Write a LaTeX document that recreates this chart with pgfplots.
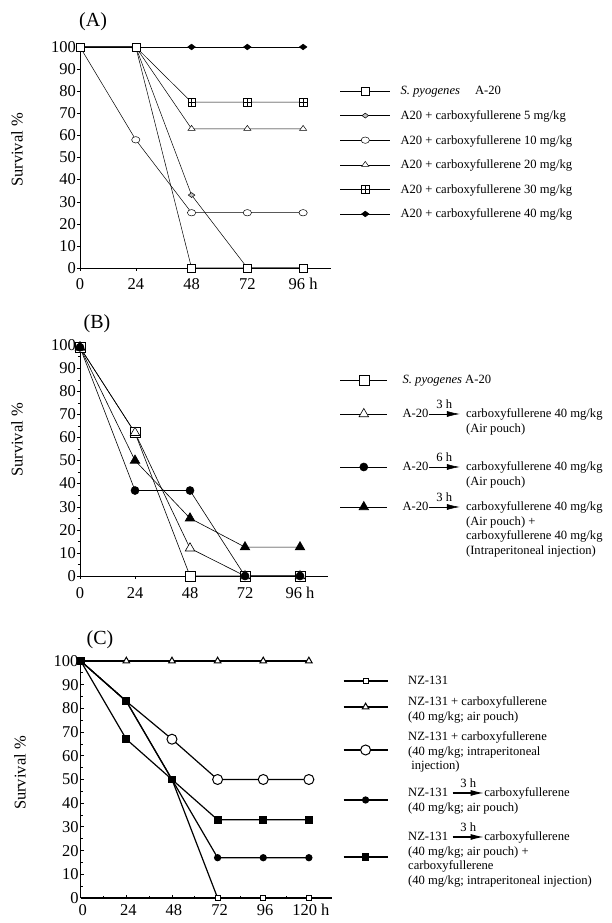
\documentclass[border=0pt]{standalone}
\usepackage{pgfplots}
\pgfplotsset{compat=1.18}
\usetikzlibrary{arrows.meta}
\usepackage{fontspec}
\setmainfont{Liberation Serif}

\newcommand\lf{\fontsize{12.6}{14.5}\selectfont}
\newcommand\tl{\fontsize{16.5}{19}\selectfont}
\newcommand\ttl{\fontsize{20}{24}\selectfont}
% arrow with a time label: line width, length, label
\newcommand\arr[3]{\tikz[baseline=0pt]{\draw[line width=#1,-{Latex[length=13pt,width=6pt]}] (0pt,4pt)--(#2,4pt) node[midway,above=4pt,inner sep=0pt]{#3};}}

\pgfdeclareplotmark{boxplus}{%
  \pgfpathrectangle{\pgfqpoint{-\pgfplotmarksize}{-\pgfplotmarksize}}{\pgfqpoint{2\pgfplotmarksize}{2\pgfplotmarksize}}%
  \pgfusepathqfillstroke
  \pgfpathmoveto{\pgfqpoint{-\pgfplotmarksize}{0pt}}\pgfpathlineto{\pgfqpoint{\pgfplotmarksize}{0pt}}%
  \pgfpathmoveto{\pgfqpoint{0pt}{-\pgfplotmarksize}}\pgfpathlineto{\pgfqpoint{0pt}{\pgfplotmarksize}}%
  \pgfusepathqstroke}

\pgfplotsset{
  base/.style={scale only axis, axis lines=left, clip=false,
    xmin=0, ymin=0, ymax=100, ytick={0,10,...,100},
    tick style={black}, major tick length=3pt, minor tick length=2pt,
    /pgf/number format/assume math mode=true,
    ticklabel style={font=\tl, inner sep=1pt},
    ylabel={Survival \%}, ylabel style={font=\tl, anchor=center},
    title style={anchor=center, font=\ttl, yshift=0pt},
    legend style={draw=none, fill=none, inner sep=0pt, outer sep=0pt, anchor=north west,
      row sep=0pt, cells={anchor=base west}, nodes={inner sep=0pt, font=\lf}}},
  limg/.style n args={3}{legend image code/.code={\draw[##1, mark indices={2}] plot coordinates {(0pt,#3)(#2,#3)(#1,#3)};}},
  % panel A
  lA/.style={black, line width=0.5pt},
  sqA/.style={lA, mark=square*, mark size=4, mark options={fill=white}},
  dgA/.style={lA, mark=diamond*, mark size=3.3, mark options={fill=gray!50, rotate=90}},
  ciA/.style={lA, mark=*, mark size=3.2, mark options={fill=white, xscale=1.3}},
  trA/.style={lA, mark=triangle*, mark size=4.2, mark options={fill=white, yscale=0.8}},
  bpA/.style={lA, mark=boxplus, mark size=3.8, mark options={fill=white}},
  dbA/.style={lA, mark=diamond*, mark size=3.8, mark options={fill=black, rotate=90}},
  % panel B
  lB/.style={black, line width=0.6pt},
  sqB/.style={lB, mark=square*, mark size=5, mark options={fill=white}},
  trB/.style={lB, mark=triangle*, mark size=5.5, mark options={fill=white}},
  fcB/.style={lB, mark=*, mark size=4, mark options={fill=black}},
  ftB/.style={lB, mark=triangle*, mark size=5.5, mark options={fill=black}},
  % panel C
  lC/.style={black, line width=1.2pt},
  sqC/.style={lC, mark=square*, mark size=2.5, mark options={fill=white, line width=1pt}},
  trC/.style={lC, mark=triangle*, mark size=3.8, mark options={fill=white, line width=1pt}},
  ciC/.style={lC, mark=*, mark size=5, mark options={fill=white, line width=1pt}},
  fcC/.style={lC, mark=*, mark size=3, mark options={fill=black}},
  fsC/.style={lC, mark=square*, mark size=3.3, mark options={fill=black}},
}

\begin{document}
\begin{tikzpicture}
\path[use as bounding box] (0,0) rectangle (611pt,923pt);

% ---------------- (A)
\begin{axis}[base, at={(80pt,655pt)}, anchor=south west, width=251pt, height=221pt,
  xmax=108, xtick={0,24,48,72,96}, xticklabels={0,24,48,72,96 h},
  xticklabel style={yshift=-6pt},
  tick align=outside, axis line style={-, line width=0.8pt},
  title={(A)}, title style={at={(rel axis cs:0.052,1.086)}},
  ylabel style={at={(rel axis cs:-0.251,0.534)}},
  legend style={at={(1.036,0.8385)}, column sep=10pt, nodes={text height=12.3pt, text depth=12.3pt}}]
\addplot[dbA, forget plot] coordinates {(0,100) (24,100) (48,100) (72,100) (96,100)};
\addplot[bpA, forget plot] coordinates {(0,100) (24,100) (48,75) (72,75) (96,75)};
\addplot[trA, forget plot] coordinates {(0,100) (24,100) (48,63) (72,63) (96,63)};
\addplot[ciA, forget plot, mark indices={2,3,4,5}] coordinates {(0,100) (24,58) (48,25) (72,25) (96,25)};
\addplot[dgA, forget plot] coordinates {(0,100) (24,100) (48,33) (72,0) (96,0)};
\addplot[sqA, forget plot] coordinates {(0,100) (24,100) (48,0) (72,0) (96,0)};
\addlegendimage{sqA, limg={50pt}{25pt}{4pt}}
\addlegendentry{\textit{S. pyogenes}\hspace{1.2em}A-20}
\addlegendimage{dgA, limg={50pt}{25pt}{4pt}}
\addlegendentry{A20 + carboxyfullerene 5 mg/kg}
\addlegendimage{ciA, limg={50pt}{25pt}{4pt}}
\addlegendentry{A20 + carboxyfullerene 10 mg/kg}
\addlegendimage{trA, limg={50pt}{25pt}{4pt}}
\addlegendentry{A20 + carboxyfullerene 20 mg/kg}
\addlegendimage{bpA, limg={50pt}{25pt}{4pt}}
\addlegendentry{A20 + carboxyfullerene 30 mg/kg}
\addlegendimage{dbA, limg={50pt}{25pt}{4pt}}
\addlegendentry{A20 + carboxyfullerene 40 mg/kg}
\end{axis}

% ---------------- (B)
\begin{axis}[base, at={(80pt,347pt)}, anchor=south west, width=247.5pt, height=231pt,
  xmax=108, xtick={0,24,48,72,96}, xticklabels={0,24,48,72,96 h},
  xticklabel style={yshift=-7pt},
  minor y tick num=1, tick align=outside, axis line style={-, line width=0.8pt},
  title={(B)}, title style={at={(rel axis cs:0.069,1.065)}},
  ylabel style={at={(rel axis cs:-0.255,0.589)}},
  legend style={at={(1.0505,0.8745)}, column sep=15pt}]
\addplot[sqB, forget plot] coordinates {(0,99) (24,62) (48,0) (72,0) (96,0)};
\addplot[trB, forget plot] coordinates {(0,99) (24,62) (48,12) (72,0) (96,0)};
\addplot[fcB, forget plot] coordinates {(0,99) (24,37) (48,37) (72,0) (96,0)};
\addplot[ftB, forget plot] coordinates {(0,99) (24,50) (48,25) (72,12.5) (96,12.5)};
\addlegendimage{sqB, limg={47pt}{23.5pt}{4pt}}
\addlegendentry[text height=10pt, text depth=4pt]{\textit{S. pyogenes} A-20}
\addlegendimage{trB, limg={47pt}{23.5pt}{4pt}}
\addlegendentry[text height=30pt, text depth=20pt]{A-20\arr{0.6pt}{31pt}{3 h}\hspace{6pt}\begin{tabular}[t]{@{}l@{}}carboxyfullerene 40 mg/kg\\(Air pouch)\end{tabular}}
\addlegendimage{fcB, limg={47pt}{23.5pt}{4pt}}
\addlegendentry[text height=33pt, text depth=20pt]{A-20\arr{0.6pt}{31pt}{6 h}\hspace{6pt}\begin{tabular}[t]{@{}l@{}}carboxyfullerene 40 mg/kg\\(Air pouch)\end{tabular}}
\addlegendimage{ftB, limg={47pt}{23.5pt}{4pt}}
\addlegendentry[text height=20pt, text depth=50pt]{A-20\arr{0.6pt}{31pt}{3 h}\hspace{6pt}\begin{tabular}[t]{@{}l@{}}carboxyfullerene 40 mg/kg\\(Air pouch) +\\carboxyfullerene 40 mg/kg\\(Intraperitoneal injection)\end{tabular}}
\end{axis}

% ---------------- (C)
\begin{axis}[base, at={(80.7pt,25pt)}, anchor=south west, width=251pt, height=237pt,
  xmax=132, xtick={0,24,48,72,96,120}, xticklabels={0,24,48,72,96,120 h},
  xticklabel style={yshift=-5pt, xshift=2pt}, yticklabel style={xshift=-1pt},
  minor x tick num=1, minor y tick num=1, tick align=inside,
  axis line style={-, line width=1.4pt}, tick style={line width=0.8pt},
  title={(C)}, title style={at={(rel axis cs:0.077,1.063)}},
  ylabel style={at={(rel axis cs:-0.242,0.527)}},
  legend style={at={(1.045,0.941)}, column sep=20pt}]
\addplot[trC, forget plot, mark indices={2,3,4,5,6}] coordinates {(0,100) (24,100) (48,100) (72,100) (96,100) (120,100)};
\addplot[ciC, forget plot, mark indices={3,4,5,6}] coordinates {(0,100) (24,83) (48,67) (72,50) (96,50) (120,50)};
\addplot[sqC, forget plot, mark indices={4,5,6}] coordinates {(0,100) (24,83) (48,50) (72,0) (96,0) (120,0)};
\addplot[fcC, forget plot, mark indices={4,5,6}] coordinates {(0,100) (24,83) (48,50) (72,17) (96,17) (120,17)};
\addplot[fsC, forget plot] coordinates {(0,100) (24,67) (48,50) (72,33) (96,33) (120,33)};
\addplot[fsC, only marks, forget plot] coordinates {(24,83)};
\addlegendimage{sqC, limg={44pt}{22pt}{4pt}}
\addlegendentry[text height=10pt, text depth=6pt]{NZ-131}
\addlegendimage{trC, limg={44pt}{22pt}{-1pt}}
\addlegendentry[text height=15pt, text depth=18pt]{\begin{tabular}[t]{@{}l@{}}NZ-131 + carboxyfullerene\\(40 mg/kg; air pouch)\end{tabular}}
\addlegendimage{ciC, limg={44pt}{22pt}{-9pt}}
\addlegendentry[text height=17pt, text depth=32pt]{\begin{tabular}[t]{@{}l@{}}NZ-131 + carboxyfullerene\\(40 mg/kg; intraperitoneal\\\ injection)\end{tabular}}
\addlegendimage{fcC, limg={44pt}{22pt}{-3pt}}
\addlegendentry[text height=24pt, text depth=20pt]{\begin{tabular}[t]{@{}l@{}}NZ-131\hspace{4pt}\arr{1.2pt}{31pt}{3 h}carboxyfullerene\\(40 mg/kg; air pouch)\end{tabular}}
\addlegendimage{fsC, limg={44pt}{22pt}{-16pt}}
\addlegendentry[text height=24pt, text depth=50pt]{\begin{tabular}[t]{@{}l@{}}NZ-131\hspace{4pt}\arr{1.2pt}{31pt}{3 h}carboxyfullerene\\(40 mg/kg; air pouch) +\\carboxyfullerene\\(40 mg/kg; intraperitoneal injection)\end{tabular}}
\end{axis}
\end{tikzpicture}
\end{document}
